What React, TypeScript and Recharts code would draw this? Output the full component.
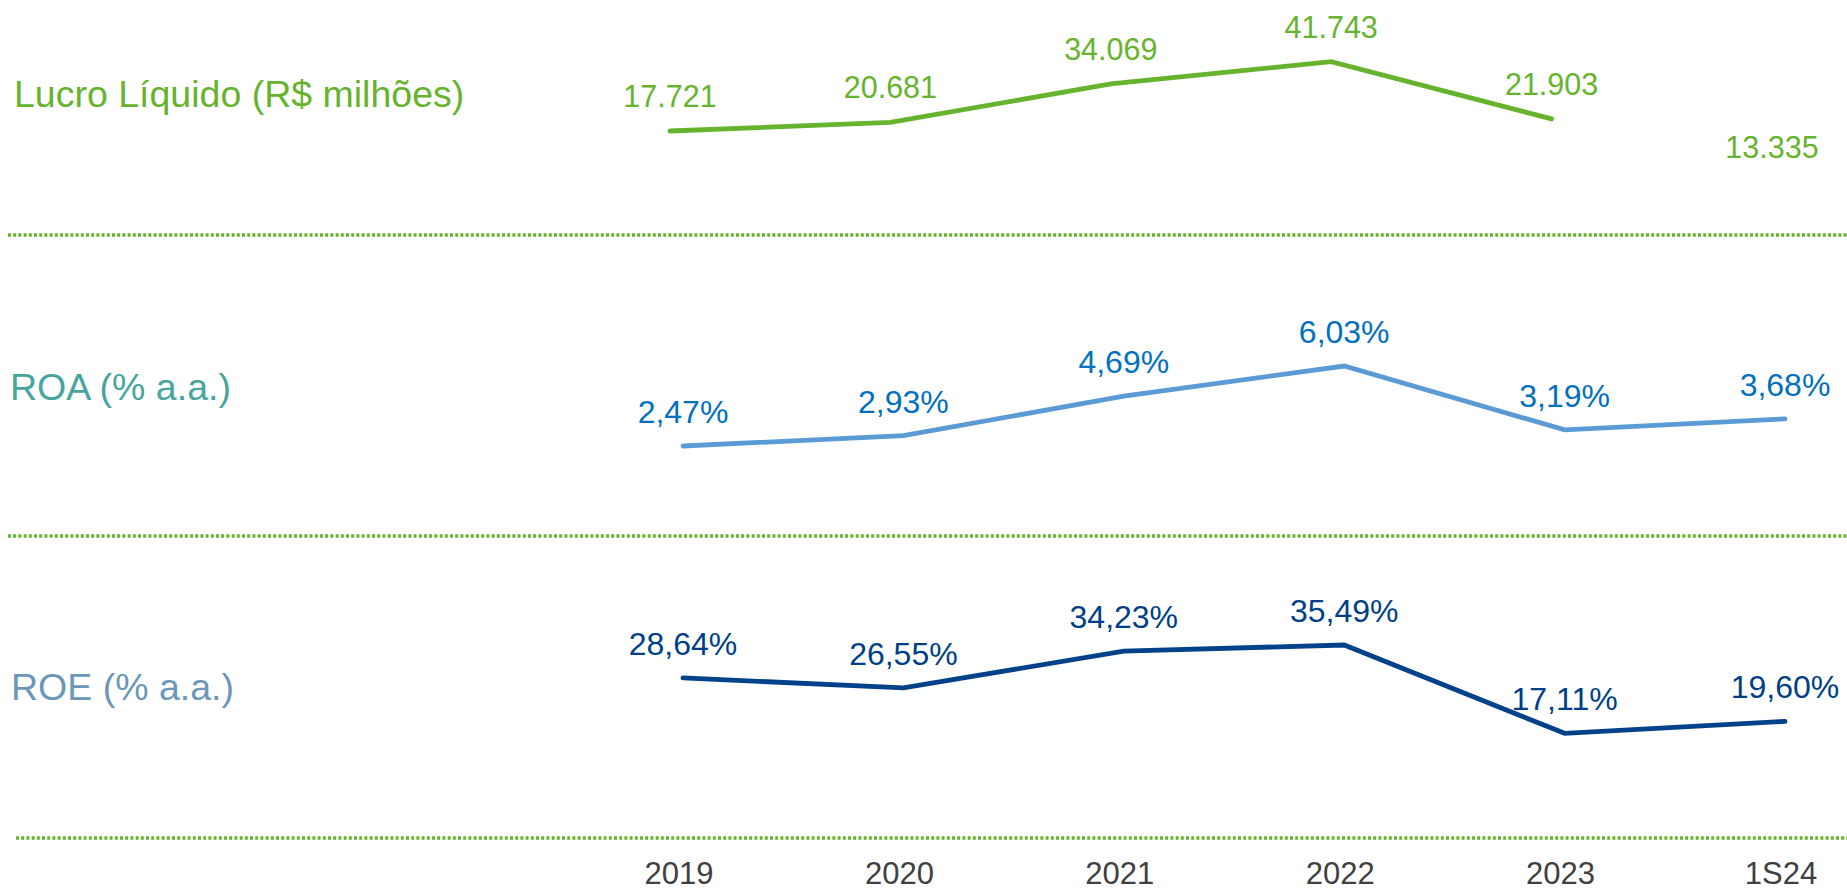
import { LineChart, Line, XAxis, YAxis, LabelList } from "recharts"

const years = ["2019", "2020", "2021", "2022", "2023", "1S24"]
// R$ milhões; 1S24 is semester-only, shown as a label without a line segment
const lucro = [17721, 20681, 34069, 41743, 21903, null]
const lucroSemestre = [null, null, null, null, null, 13335]
const roa = [2.47, 2.93, 4.69, 6.03, 3.19, 3.68]
const roe = [28.64, 26.55, 34.23, 35.49, 17.11, 19.6]

const data = years.map((year, i) => ({
  year,
  lucro: lucro[i],
  lucroSemestre: lucroSemestre[i],
  roa: roa[i],
  roe: roe[i],
}))

const GREEN = "#66b32e"
const FONT = '"Liberation Sans", Arial, Helvetica, sans-serif'

const fmtLucro = (v: any) =>
  v == null ? "" : String(v).replace(/\B(?=(\d{3})+(?!\d))/g, ".")
const fmtPct = (v: any) => (v == null ? "" : Number(v).toFixed(2).replace(".", ",") + "%")

const dottedAxis = { stroke: GREEN, strokeWidth: 3.5, strokeDasharray: "3 2.2" }

export default function App() {
  return (
    <div
      style={{
        position: "absolute",
        top: 0,
        left: 0,
        width: 1847,
        height: 891,
        background: "#fff",
        fontFamily: FONT,
      }}
    >
      <svg width={1847} height={891} style={{ position: "absolute", top: 0, left: 0 }}>
        <text x={14} y={107} fontSize={37.5} fill={GREEN}>
          Lucro Líquido (R$ milhões)
        </text>
        <text x={10} y={400} fontSize={37.5} fill="#46a69e">
          ROA (% a.a.)
        </text>
        <text x={11} y={700} fontSize={37.5} fill="#6b97b8">
          ROE (% a.a.)
        </text>
      </svg>

      <div style={{ position: "absolute", top: 0, left: 0 }}>
        <LineChart width={1847} height={237} data={data} margin={{ top: 0, right: 0, bottom: 0, left: 8 }}>
          <XAxis
            dataKey="year"
            height={2}
            tick={false}
            tickLine={false}
            axisLine={dottedAxis}
            padding={{ left: 662, right: 75 }}
          />
          <YAxis hide domain={[-18327, 63129]} />
          <Line
            dataKey="lucro"
            stroke={GREEN}
            strokeWidth={4.8}
            strokeLinecap="round"
            dot={false}
            activeDot={false}
            isAnimationActive={false}
          >
            <LabelList dataKey="lucro" position="top" offset={24} formatter={fmtLucro} fill={GREEN} fontSize={30.5} />
          </Line>
          <Line
            dataKey="lucroSemestre"
            stroke="none"
            dot={false}
            activeDot={false}
            isAnimationActive={false}
          >
            <LabelList
              dataKey="lucroSemestre"
              position="top"
              offset={-14}
              formatter={fmtLucro}
              fill={GREEN}
              fontSize={30.5}
            />
          </Line>
        </LineChart>
      </div>

      <div style={{ position: "absolute", top: 235, left: 0 }}>
        <LineChart width={1847} height={303} data={data} margin={{ top: 0, right: 0, bottom: 0, left: 8 }}>
          <XAxis
            dataKey="year"
            height={2}
            tick={false}
            tickLine={false}
            axisLine={dottedAxis}
            padding={{ left: 675, right: 62 }}
          />
          <YAxis hide domain={[-1.535, 11.86]} />
          <Line
            dataKey="roa"
            stroke="#5b9bd5"
            strokeWidth={4.8}
            strokeLinecap="round"
            dot={false}
            activeDot={false}
            isAnimationActive={false}
          >
            <LabelList dataKey="roa" position="top" offset={23} formatter={fmtPct} fill="#0070c0" fontSize={32} />
          </Line>
        </LineChart>
      </div>

      <div style={{ position: "absolute", top: 536, left: 0 }}>
        <LineChart width={1847} height={355} data={data} margin={{ top: 0, right: 0, bottom: 0, left: 16 }}>
          <XAxis
            dataKey="year"
            height={53}
            tickLine={false}
            tickSize={6}
            tickMargin={18}
            tick={{ fill: "#404040", fontSize: 31, dx: -4 }}
            axisLine={dottedAxis}
            padding={{ left: 667, right: 62 }}
          />
          <YAxis hide domain={[-4.68, 58.18]} />
          <Line
            dataKey="roe"
            stroke="#004289"
            strokeWidth={4.8}
            strokeLinecap="round"
            dot={false}
            activeDot={false}
            isAnimationActive={false}
          >
            <LabelList dataKey="roe" position="top" offset={23} formatter={fmtPct} fill="#003f87" fontSize={32} />
          </Line>
        </LineChart>
      </div>
    </div>
  )
}
